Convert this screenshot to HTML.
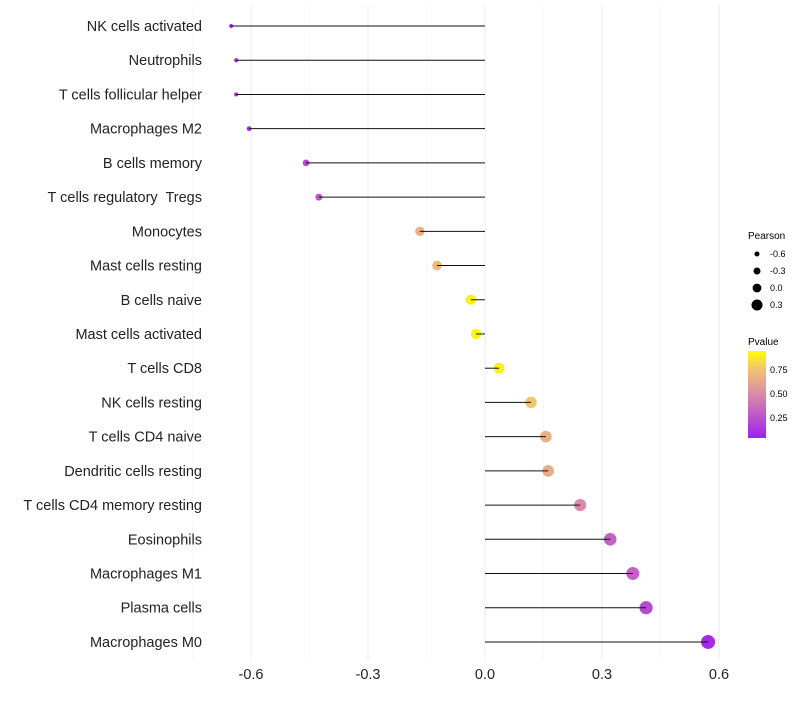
<!DOCTYPE html>
<html><head><meta charset="utf-8"><style>
body{margin:0;background:#fff;font-family:"Liberation Sans",sans-serif}
text{white-space:pre}
</style></head><body>
<svg id="chart" width="800" height="700" xmlns="http://www.w3.org/2000/svg">
<defs><linearGradient id="pg" x1="0" y1="1" x2="0" y2="0">
<stop offset="0" stop-color="#a020f0"/><stop offset="0.5" stop-color="#d98aa6"/><stop offset="0.8" stop-color="#f3c470"/><stop offset="1" stop-color="#ffff00"/></linearGradient></defs>
<g id="grid"></g><g id="dots"></g><g id="stems"></g><g id="labels"></g>
<g font-size="9">
<text x="748" y="239" font-size="10">Pearson</text>
<circle cx="757" cy="254" r="2.5"/><text x="770" y="257">-0.6</text>
<circle cx="757" cy="271" r="3.5"/><text x="770" y="274">-0.3</text>
<circle cx="757" cy="288" r="4.4"/><text x="770" y="291">0.0</text>
<circle cx="757" cy="305" r="5.5"/><text x="770" y="308">0.3</text>
</g>
<g font-size="9">
<text x="748" y="345" font-size="10">Pvalue</text>
<rect x="748" y="351" width="18" height="87" fill="url(#pg)"/>
<text x="770" y="373">0.75</text><text x="770" y="397">0.50</text><text x="770" y="421">0.25</text>
</g>
</svg>
<script>
const categories=["NK cells activated","Neutrophils","T cells follicular helper","Macrophages M2","B cells memory","T cells regulatory  Tregs","Monocytes","Mast cells resting","B cells naive","Mast cells activated","T cells CD8","NK cells resting","T cells CD4 naive","Dendritic cells resting","T cells CD4 memory resting","Eosinophils","Macrophages M1","Plasma cells","Macrophages M0"];
const pearson=[-0.651,-0.638,-0.638,-0.605,-0.459,-0.426,-0.167,-0.123,-0.036,-0.023,0.036,0.118,0.156,0.162,0.244,0.321,0.379,0.413,0.572];
const pvalues=[0.04,0.05,0.05,0.06,0.2,0.25,0.7,0.75,0.95,0.97,0.95,0.8,0.7,0.68,0.5,0.3,0.3,0.2,0.05];
const ticks=[-0.6,-0.3,0.0,0.3,0.6];
const NS="http://www.w3.org/2000/svg";
const x=v=>485+v*390;
const y=i=>26+i*34.22;
const rad=v=>Math.sqrt(Math.max(3,28+37*v));
function col(p){const st=[[0,[160,32,240]],[0.5,[217,138,166]],[0.8,[243,196,112]],[1,[255,255,0]]];
for(let k=1;k<st.length;k++){if(p<=st[k][0]){const a=st[k-1],b=st[k],t=(p-a[0])/(b[0]-a[0]);
return "rgb("+a[1].map((c,j)=>Math.round(c+(b[1][j]-c)*t)).join(",")+")";}}return "rgb(255,255,0)";}
function mk(tag,attrs,parent){const e=document.createElementNS(NS,tag);for(const k in attrs)e.setAttribute(k,attrs[k]);parent.appendChild(e);return e;}
const grid=document.getElementById('grid'),dots=document.getElementById('dots'),stems=document.getElementById('stems'),labels=document.getElementById('labels');
[-0.75,-0.45,-0.15,0.15,0.45].forEach(v=>{const l=mk('line',{x1:x(v),x2:x(v),y1:5,y2:660,stroke:'#f3f3f3','stroke-width':0.6},grid);

});
ticks.forEach(v=>{const l=mk('line',{x1:x(v),x2:x(v),y1:5,y2:660,stroke:'#ebebeb','stroke-width':1},grid);


const t=mk('text',{x:x(v),y:679,'text-anchor':'middle','font-size':14.5,fill:'#222'},labels);t.textContent=v.toFixed(1);

});
categories.forEach((c,i)=>{const yy=y(i);
const t=mk('text',{x:202,y:yy+5,'text-anchor':'end','font-size':14.5,fill:'#222'},labels);t.textContent=c;


const d=mk('circle',{cx:x(pearson[i]),cy:yy,r:rad(pearson[i]),fill:col(pvalues[i])},dots);


const l=mk('line',{x1:x(0),x2:x(pearson[i]),y1:yy,y2:yy,stroke:'#111','stroke-width':1},stems);

});
</script>
</body></html>
